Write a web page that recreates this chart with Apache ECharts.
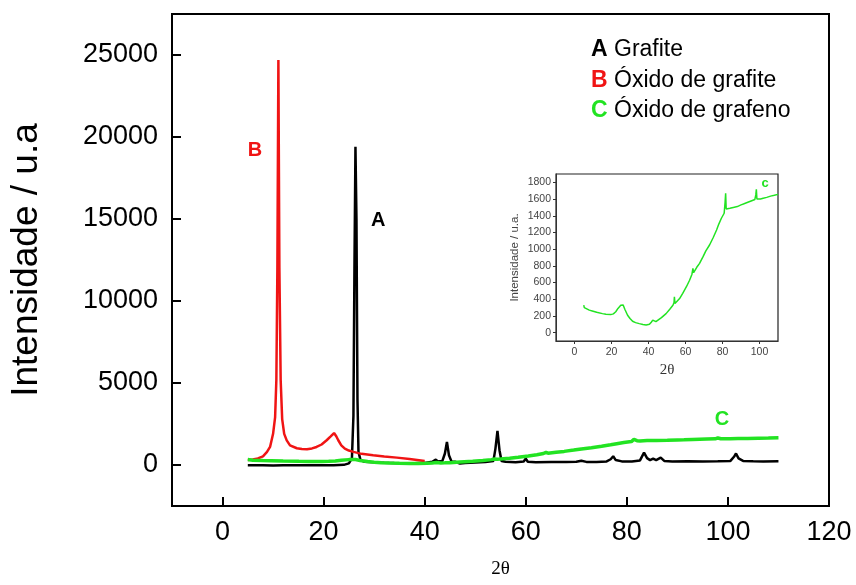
<!DOCTYPE html>
<html>
<head>
<meta charset="utf-8">
<script src="https://cdn.jsdelivr.net/npm/echarts@6/dist/echarts.min.js"></script>
<style>html,body{margin:0;padding:0;background:#fff;}#c{width:856px;height:585px;}</style>
</head>
<body>
<div id="c"></div>
<script>
// ---- data (2θ, intensity) ----
const seriesNames = ['Grafite', 'Óxido de grafite', 'Óxido de grafeno'];
const grafite = [
  [5,-20],[8,-10],[10,-30],[12,-20],[14,-10],[16,-20],[18,-10],[20,-20],[22,-10],[24,10],[25,100],
  [25.6,400],[25.9,3000],[26.1,12000],[26.3,19400],[26.5,15000],[26.7,4000],[26.9,800],[27.3,300],
  [28,200],[30,160],[32,130],[34,115],[36,105],[38,100],[40,130],[41.5,200],[42.2,330],[42.6,220],
  [43.5,250],[44.0,700],[44.4,1400],[44.8,600],[45.3,220],[46,200],[47,90],[48,120],[50,150],[52,180],
  [53.6,250],[54.0,1000],[54.4,2080],[54.8,900],[55.2,250],[56,200],[58,170],[59.6,220],[60.0,390],
  [60.4,200],[62,170],[65,190],[68,180],[70,200],[71,260],[72,190],[74,190],[76,220],[76.8,350],
  [77.3,530],[77.8,300],[79,220],[81,220],[82.6,280],[83.4,755],[84,420],[84.6,300],[85.2,390],
  [85.8,300],[86.7,450],[87.4,250],[89,220],[92,230],[95,220],[98,230],[100.5,250],[101.2,500],
  [101.6,700],[102.1,400],[103,250],[105,230],[107,220],[110,230]
];
const oxidoGrafite = [
  [5,300],[6,330],[7,400],[8,530],[8.8,800],[9.4,1100],[10.0,1900],[10.4,2900],[10.65,5200],
  [10.85,12000],[11.05,24700],[11.25,12000],[11.5,5200],[11.8,2800],[12.2,1900],[12.7,1500],
  [13.35,1200],[14.7,1020],[15.7,970],[16.7,960],[17.7,1010],[18.6,1100],[19.6,1250],[20.6,1510],
  [21.4,1750],[22.06,1950],[22.5,1750],[22.9,1510],[23.5,1200],[24.2,1000],[25.0,880],[25.9,800],
  [27.5,680],[29.8,590],[32,520],[34.5,450],[37,360],[40,245]
];
const oxidoGrafeno = [
  [5,330],[5.3,300],[6,290],[8,270],[9.6,260],[12,245],[15.1,228],[17,220],[19.6,216],[21,225],
  [22.3,250],[23.5,290],[25,328],[26.3,330],[27.2,280],[28.7,208],[30,170],[31.4,136],[33,120],
  [35,108],[37,98],[38.7,92],[40.5,100],[41.5,125],[42.3,150],[43.2,128],[44,132],[45,140],[47,180],
  [49.5,228],[51.5,280],[53.2,328],[53.8,360],[54,430],[54.3,350],[55,360],[56.8,408],[58.5,470],
  [60.5,550],[62.2,628],[63.5,700],[64,770],[64.4,720],[66,780],[67.6,830],[69.5,910],[71,980],
  [73,1050],[75,1140],[76.8,1230],[78,1300],[79.4,1370],[80.9,1430],[81.4,1560],[81.7,1670],
  [82.0,1480],[82.6,1470],[84,1490],[85.8,1500],[88,1510],[90,1530],[91.3,1540],[93,1555],
  [95.8,1580],[97.5,1595],[98.0,1650],[98.3,1716],[98.6,1600],[99,1595],[100.5,1600],[102,1610],
  [103.9,1620],[106,1635],[108,1645],[110,1656]
];
const mainXTicks = [0,20,40,60,80,100,120];
const mainYTicks = [0,5000,10000,15000,20000,25000];
const insetXTicks = [0,20,40,60,80,100];
const insetYTicks = [0,200,400,600,800,1000,1200,1400,1600,1800];

const RED = '#f01414', GREEN = '#22e322', BLACK = '#000';
const SANS = 'Liberation Sans, Arial, sans-serif';
const SERIF = 'Liberation Serif, Times New Roman, serif';
const plain = function(v){ return String(v); };

const chart = echarts.init(document.getElementById('c'), null, {renderer:'canvas'});
chart.setOption({
  animation: false,
  backgroundColor: '#fff',
  grid: [
    {left:172, top:14, width:657, height:492, show:true, borderColor:'#000', borderWidth:2, backgroundColor:'transparent'},
    {left:556, top:174, width:222, height:167, show:true, borderColor:'#222', borderWidth:1.2, backgroundColor:'#fff'}
  ],
  legend: {
    data: seriesNames, orient:'vertical', left:581, top:33, icon:'none', itemWidth:0, itemHeight:24, itemGap:7,
    selectedMode:false,
    formatter: function(n){ const k = {'Grafite':'A','Óxido de grafite':'B','Óxido de grafeno':'C'}[n]; return '{'+k+'|'+k+'} '+n; },
    textStyle: {fontFamily:SANS, fontSize:23, color:'#000',
      rich: {A:{color:BLACK, fontWeight:'bold', fontSize:23, fontFamily:SANS},
             B:{color:RED, fontWeight:'bold', fontSize:23, fontFamily:SANS},
             C:{color:GREEN, fontWeight:'bold', fontSize:23, fontFamily:SANS}}}
  },
  xAxis: [
    {gridIndex:0, type:'value', min:-10, max:120, splitLine:{show:false},
     axisLine:{onZero:false, lineStyle:{color:'#000', width:2}},
     axisTick:{inside:true, length:9, customValues:mainXTicks, lineStyle:{width:2, color:'#000'}},
     axisLabel:{customValues:mainXTicks, formatter:plain, fontSize:27, fontFamily:SANS, color:'#000', margin:13},
     name:'2θ', nameLocation:'middle', nameGap:54, nameTextStyle:{fontFamily:SERIF, fontSize:19, color:'#000'}},
    {gridIndex:1, type:'value', min:-10, max:110, splitLine:{show:false},
     axisLine:{onZero:false, lineStyle:{color:'#333', width:1}},
     axisTick:{inside:false, length:3, customValues:insetXTicks, lineStyle:{color:'#333'}},
     axisLabel:{customValues:insetXTicks, formatter:plain, fontSize:10.5, fontFamily:SANS, color:'#444', margin:6},
     name:'2θ', nameLocation:'middle', nameGap:22, nameTextStyle:{fontFamily:SERIF, fontSize:15, color:'#333'}}
  ],
  yAxis: [
    {gridIndex:0, type:'value', min:-2500, max:27500, splitLine:{show:false},
     axisLine:{onZero:false, show:true, lineStyle:{color:'#000', width:2}},
     axisTick:{show:true, inside:true, length:9, customValues:mainYTicks, lineStyle:{width:2, color:'#000'}},
     axisLabel:{customValues:mainYTicks, formatter:plain, fontSize:27, fontFamily:SANS, color:'#000', margin:14},
     name:'Intensidade / u.a', nameLocation:'middle', nameGap:127, nameTextStyle:{fontFamily:SANS, fontSize:37, color:'#000'}},
    {gridIndex:1, type:'value', min:-100, max:1900, splitLine:{show:false},
     axisLine:{onZero:false, show:true, lineStyle:{color:'#333', width:1}},
     axisTick:{show:true, inside:false, length:3, customValues:insetYTicks, lineStyle:{color:'#333'}},
     axisLabel:{customValues:insetYTicks, formatter:plain, fontSize:10.5, fontFamily:SANS, color:'#444', margin:5},
     name:'Intensidade / u.a.', nameLocation:'middle', nameGap:35, nameTextStyle:{fontFamily:SANS, fontSize:11.5, color:'#444'}}
  ],
  series: [
    {name:seriesNames[0], type:'line', xAxisIndex:0, yAxisIndex:0, data:grafite, showSymbol:false, symbol:'none',
     lineStyle:{color:BLACK, width:2.5}, itemStyle:{color:BLACK}, z:2,
     markPoint:{symbol:'circle', symbolSize:0, silent:true, data:[{coord:[30.8,14900], label:{show:true, formatter:'A', color:BLACK, fontWeight:'bold', fontSize:20, fontFamily:SANS}}]}},
    {name:seriesNames[1], type:'line', xAxisIndex:0, yAxisIndex:0, data:oxidoGrafite, showSymbol:false, symbol:'none',
     lineStyle:{color:RED, width:2.5}, itemStyle:{color:RED}, z:3,
     markPoint:{symbol:'circle', symbolSize:0, silent:true, data:[{coord:[6.4,19200], label:{show:true, formatter:'B', color:RED, fontWeight:'bold', fontSize:20, fontFamily:SANS}}]}},
    {name:seriesNames[2], type:'line', xAxisIndex:0, yAxisIndex:0, data:oxidoGrafeno, showSymbol:false, symbol:'none',
     lineStyle:{color:GREEN, width:3.5}, itemStyle:{color:GREEN}, z:4,
     markPoint:{symbol:'circle', symbolSize:0, silent:true, data:[{coord:[98.8,2750], label:{show:true, formatter:'C', color:GREEN, fontWeight:'bold', fontSize:20, fontFamily:SANS}}]}},
    {name:'inset', type:'line', xAxisIndex:1, yAxisIndex:1, data:oxidoGrafeno, showSymbol:false, symbol:'none',
     lineStyle:{color:GREEN, width:1.5}, itemStyle:{color:GREEN}, z:5,
     markPoint:{symbol:'circle', symbolSize:0, silent:true, data:[{coord:[103,1790], label:{show:true, formatter:'c', color:GREEN, fontWeight:'bold', fontSize:13, fontFamily:SANS}}]}}
  ]
});
</script>
</body>
</html>
